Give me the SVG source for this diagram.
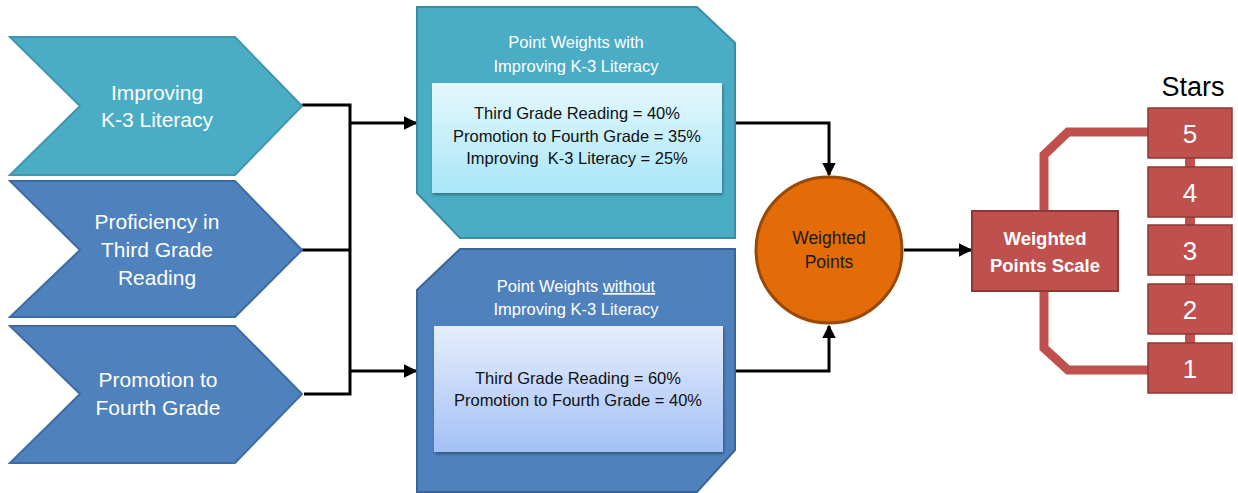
<svg xmlns="http://www.w3.org/2000/svg" width="1238" height="493" viewBox="0 0 1238 493">
<style>
text{font-family:"Liberation Sans",Arial,sans-serif;text-anchor:middle}
.chev{font-size:21px;fill:#fff}
.title{font-size:16.5px;fill:#fff}
.inner{font-size:16.5px;fill:#111}
.conn{fill:none;stroke:#000;stroke-width:3}
.star rect{fill:#C0504D;stroke:#8C3836;stroke-width:1.5}
.star text{font-size:26px;fill:#fff}
</style>
<defs>
<marker id="ah" viewBox="0 0 10 10" refX="9" refY="5" markerWidth="4.5" markerHeight="4.5" markerUnits="strokeWidth" orient="auto">
<path d="M0,0 L10,5 L0,10 z" fill="#000"/>
</marker>
<linearGradient id="gTeal" x1="0" y1="0" x2="0" y2="1">
<stop offset="0" stop-color="#E4F8FD"/><stop offset="1" stop-color="#A9E6F7"/>
</linearGradient>
<linearGradient id="gBlue" x1="0" y1="0" x2="0" y2="1">
<stop offset="0" stop-color="#E6EEFC"/><stop offset="1" stop-color="#A3C0F6"/>
</linearGradient>
<filter id="sh" x="-5%" y="-5%" width="110%" height="115%">
<feDropShadow dx="1" dy="2" stdDeviation="1.5" flood-color="#000" flood-opacity="0.35"/>
</filter>
</defs>

<g id="connectors">
<polyline class="conn" points="302,105 350,105 350,394 304,394"/>
<line class="conn" x1="302" y1="250" x2="350" y2="250"/>
<line class="conn" x1="350" y1="123" x2="416" y2="123" marker-end="url(#ah)"/>
<line class="conn" x1="350" y1="371" x2="416" y2="371" marker-end="url(#ah)"/>
<polyline class="conn" points="735,123 829,123 829,175" marker-end="url(#ah)"/>
<polyline class="conn" points="735,371 829,371 829,326" marker-end="url(#ah)"/>
<line class="conn" x1="904" y1="250" x2="971" y2="250" marker-end="url(#ah)"/>
<g fill="none" stroke="#C0504D" stroke-width="9">
<polyline points="1150,132 1068,132 1044,155 1044,212"/>
<polyline points="1044,290 1044,348 1068,370 1150,370"/>
</g>
<g fill="#C0504D">
<rect x="1185" y="157" width="10" height="11"/>
<rect x="1185" y="216" width="10" height="10"/>
<rect x="1185" y="274" width="10" height="11"/>
<rect x="1185" y="334" width="10" height="10"/>
</g>
</g>

<g id="chev-k3">
<polygon points="10,37 235,37 302,106 235,175 10,175 80,106" fill="#4BACC6" stroke="#3F96AD" stroke-width="2"/>
<text class="chev" x="157" y="100">Improving</text>
<text class="chev" x="157" y="127">K-3 Literacy</text>
</g>
<g id="chev-reading">
<polygon points="10,181 235,181 302,250 235,317 10,317 80,250" fill="#4F81BD" stroke="#3D6CA3" stroke-width="2"/>
<text class="chev" x="157" y="229">Proficiency in</text>
<text class="chev" x="157" y="257">Third Grade</text>
<text class="chev" x="157" y="285">Reading</text>
</g>
<g id="chev-promotion">
<polygon points="10,326 235,326 302,394 235,463 10,463 80,394" fill="#4F81BD" stroke="#3D6CA3" stroke-width="2"/>
<text class="chev" x="158" y="387">Promotion to</text>
<text class="chev" x="158" y="415">Fourth Grade</text>
</g>

<g id="weights-with">
<polygon points="417,7 697,7 735,43 735,238 460,238 417,193" fill="#4BACC6" stroke="#3A8DA3" stroke-width="2"/>
<text class="title" x="576" y="48">Point Weights with</text>
<text class="title" x="576" y="72">Improving K-3 Literacy</text>
<rect x="432" y="83" width="290" height="110" fill="url(#gTeal)" filter="url(#sh)"/>
<text class="inner" x="577" y="119">Third Grade Reading = 40%</text>
<text class="inner" x="577" y="142">Promotion to Fourth Grade = 35%</text>
<text class="inner" x="577" y="164" xml:space="preserve">Improving  K-3 Literacy = 25%</text>
</g>

<g id="weights-without">
<polygon points="460,249 735,249 735,450 697,492 417,492 417,290" fill="#4F81BD" stroke="#3A6596" stroke-width="2"/>
<text class="title" x="576" y="292">Point Weights <tspan text-decoration="underline">without</tspan></text>
<text class="title" x="576" y="315">Improving K-3 Literacy</text>
<rect x="434" y="326" width="289" height="126" fill="url(#gBlue)" filter="url(#sh)"/>
<text class="inner" x="578" y="384">Third Grade Reading = 60%</text>
<text class="inner" x="578" y="406">Promotion to Fourth Grade = 40%</text>
</g>

<g id="weighted-points">
<circle cx="829" cy="250" r="73" fill="#E36C09" stroke="#984807" stroke-width="3"/>
<text x="829" y="244" style="font-size:17.5px;fill:#1a1a1a">Weighted</text>
<text x="829" y="268" style="font-size:17.5px;fill:#1a1a1a">Points</text>
</g>

<g id="scale">
<rect x="972" y="211" width="146" height="80" fill="#C0504D" stroke="#8C3836" stroke-width="2"/>
<text x="1045" y="245" style="font-size:18.5px;font-weight:bold;fill:#fff">Weighted</text>
<text x="1045" y="272" style="font-size:18.5px;font-weight:bold;fill:#fff">Points Scale</text>
</g>

<text id="stars-label" x="1193" y="96" style="font-size:27px;fill:#000">Stars</text>
<g id="star5" class="star"><rect x="1148" y="108" width="84" height="50"/><text x="1190" y="143">5</text></g>
<g id="star4" class="star"><rect x="1148" y="167" width="84" height="50"/><text x="1190" y="202">4</text></g>
<g id="star3" class="star"><rect x="1148" y="225" width="84" height="50"/><text x="1190" y="260">3</text></g>
<g id="star2" class="star"><rect x="1148" y="284" width="84" height="50"/><text x="1190" y="319">2</text></g>
<g id="star1" class="star"><rect x="1148" y="343" width="84" height="50"/><text x="1190" y="378">1</text></g>
</svg>
